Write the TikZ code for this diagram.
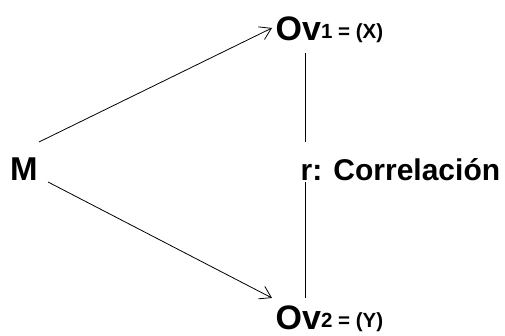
\documentclass[tikz,border=0pt]{standalone}
\usepackage{fontspec}
\setmainfont{Liberation Sans}
\usetikzlibrary{arrows.meta,calc}
\tikzset{
  lbl/.style={inner sep=0pt, anchor=base west, font=\fontsize{30}{30}\selectfont\bfseries},
  mlbl/.style={inner sep=0pt, anchor=base west, font=\fontsize{33}{33}\selectfont\bfseries},
  ovlbl/.style={inner sep=0pt, anchor=base west, font=\fontsize{34}{34}\selectfont\bfseries},
  conn/.style={line width=0.8pt, black},
  arr/.style={conn, -{Straight Barb[length=11pt,width=14pt,line width=0.8pt]}}
}
\newcommand{\subtxt}[1]{\raisebox{2pt}{\fontsize{20.5}{20.5}\selectfont\bfseries #1}}
\begin{document}
\begin{tikzpicture}[x=1pt,y=1pt]
\useasboundingbox (0,0) rectangle (505,336);
\node[mlbl] (m) at (10,155) {M};
\node[lbl] (r) at (300.5,155) {r: Correlación};
\node[ovlbl] (ov1) at (275.5,295) {Ov\subtxt{1 = (X)}};
\node[ovlbl] (ov2) at (275.5,6) {Ov\subtxt{2 = (Y)}};
\draw[arr] ($(m.base west)+(29,39)$) -- ($(ov1.base west)+(-3.5,13)$);
\draw[arr] ($(m.base west)+(38,-1)$) -- ($(ov2.base west)+(-3.5,32)$);
\draw[conn] ($(ov1.base west)+(29.5,-12)$) -- ($(r.base west)+(4.5,39)$);
\draw[conn] ($(r.base west)+(4.5,-1)$) -- ($(ov2.base west)+(29.5,32)$);
\end{tikzpicture}
\end{document}
